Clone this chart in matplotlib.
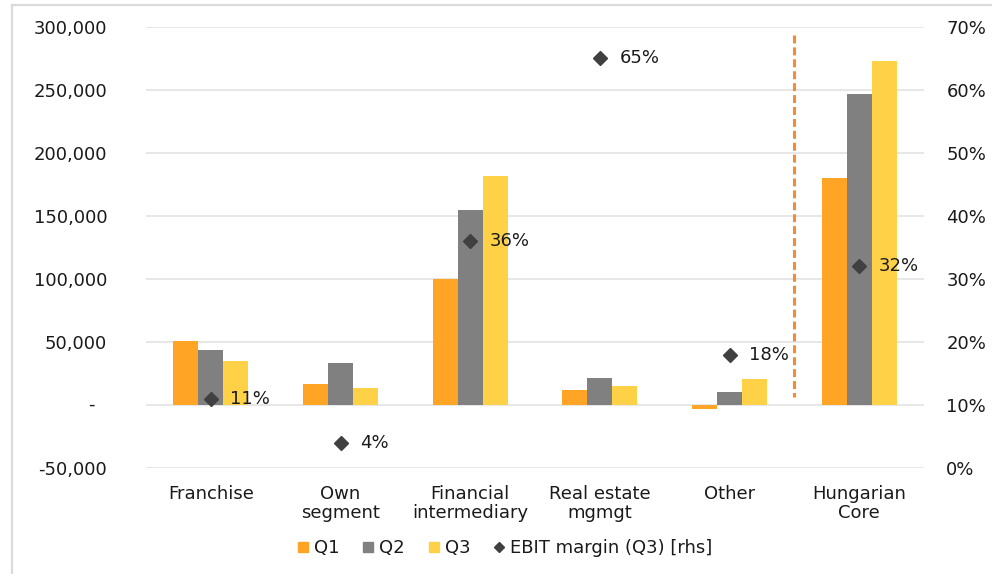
import matplotlib
matplotlib.use("Agg")
import matplotlib.pyplot as plt
from matplotlib.lines import Line2D
import numpy as np

plt.rcParams['font.family'] = ['DejaVu Sans']

categories = ["Franchise", "Own\nsegment", "Financial\nintermediary",
              "Real estate\nmgmgt", "Other", "Hungarian\nCore"]
q1 = [51000, 16700, 100000, 12000, -3500, 180000]
q2 = [44000, 33300, 155000, 21400, 10300, 247000]
q3 = [35000, 13500, 181500, 15000, 20600, 273000]
ebit_margin_q3 = [0.11, 0.04, 0.36, 0.65, 0.18, 0.32]
margin_labels = ["11%", "4%", "36%", "65%", "18%", "32%"]
left_ticks = [-50000, 0, 50000, 100000, 150000, 200000, 250000, 300000]
right_ticks = [0, 0.1, 0.2, 0.3, 0.4, 0.5, 0.6, 0.7]

c_q1 = "#FFA424"
c_q2 = "#808080"
c_q3 = "#FFD147"
c_mk = "#404040"
c_grid = "#E3E3E3"
c_txt = "#1a1a1a"
fs = 13

fig = plt.figure(figsize=(9.92, 5.74), dpi=100)
ax = fig.add_axes([0.1472, 0.1847, 0.7843, 0.7683])

x = np.arange(len(categories))
w = 0.193
ax.bar(x - w, q1, w, color=c_q1, zorder=2, label="Q1")
ax.bar(x, q2, w, color=c_q2, zorder=2, label="Q2")
ax.bar(x + w, q3, w, color=c_q3, zorder=2, label="Q3")

ax.set_xlim(-0.5, len(categories) - 0.5)
ax.set_ylim(-50000, 300000)
ax.set_yticks(left_ticks)
ax.set_yticklabels(["" if v == 0 else f"{v:,.0f}" for v in left_ticks],
                   fontsize=fs, color=c_txt)
ax.tick_params(axis="y", length=0, pad=28)
ax.text(-0.0707, 0, "-", transform=ax.get_yaxis_transform(),
        ha="center", va="center", fontsize=fs, color=c_txt)
ax.set_xticks(x)
ax.set_xticklabels(categories, fontsize=fs, color=c_txt, linespacing=1.1)
ax.tick_params(axis="x", length=0, pad=12)
for s in ax.spines.values():
    s.set_visible(False)
ax.yaxis.grid(True, color=c_grid, linewidth=1.2, zorder=0)
ax.set_axisbelow(True)

ax2 = ax.twinx()
ax2.set_ylim(0, 0.7)
ax2.set_yticks(right_ticks)
ax2.set_yticklabels([f"{v:.0%}" for v in right_ticks], fontsize=fs, color=c_txt)
ax2.tick_params(axis="y", length=0, pad=16)
for s in ax2.spines.values():
    s.set_visible(False)
ax2.plot(x, ebit_margin_q3, linestyle="none", marker="D", markersize=7.5,
         color=c_mk, zorder=4)
for xi, yi, lab in zip(x, ebit_margin_q3, margin_labels):
    ax2.annotate(lab, (xi, yi), xytext=(14, 0), textcoords="offset points",
                 ha="left", va="center", fontsize=fs, color=c_txt, zorder=5)

# separator between segments and the core total
ax2.plot([4.5, 4.5], [0.982, 0.161], transform=ax.get_xaxis_transform(),
         color="#F28C38", linewidth=2.2, linestyle=(0, (2.6, 1.3)), zorder=3)

handles = [
    Line2D([], [], linestyle="none", marker="s", markersize=6.5, color=c_q1),
    Line2D([], [], linestyle="none", marker="s", markersize=6.5, color=c_q2),
    Line2D([], [], linestyle="none", marker="s", markersize=6.5, color=c_q3),
    Line2D([], [], linestyle="none", marker="D", markersize=5.5, color=c_mk),
]
fig.legend(handles, ["Q1", "Q2", "Q3", "EBIT margin (Q3) [rhs]"],
           loc="center", bbox_to_anchor=(0.509, 0.045), ncol=4, frameon=False,
           fontsize=fs, handlelength=0.6, handletextpad=0.3, columnspacing=1.3,
           labelcolor=c_txt)

# outer frame
fig.add_artist(Line2D([12 / 992, 12 / 992], [1 - 5 / 574, 0], color="#DADADA",
                      linewidth=1.6, transform=fig.transFigure))
fig.add_artist(Line2D([12 / 992, 1], [1 - 5 / 574, 1 - 5 / 574], color="#DADADA",
                      linewidth=1.6, transform=fig.transFigure))

fig.savefig("out.png", dpi=100)
